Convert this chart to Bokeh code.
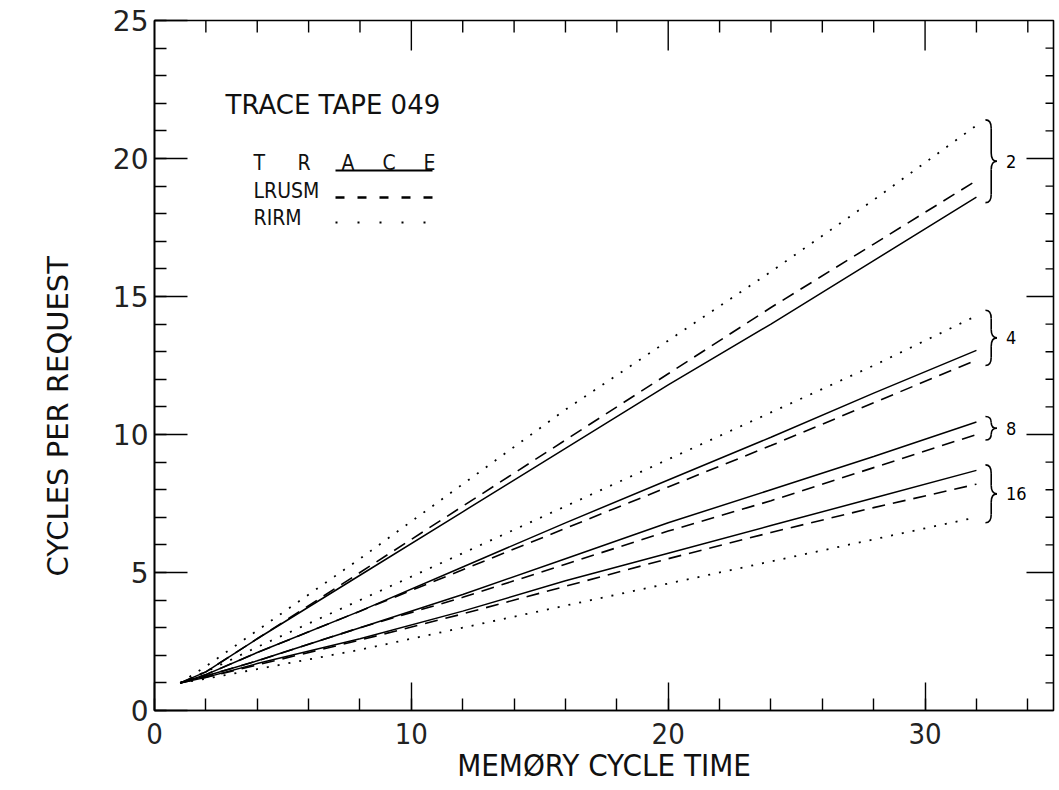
import math
from bokeh.plotting import figure
from bokeh.models import LinearAxis, SingleIntervalTicker, Label, Range1d, Title
from bokeh.embed import file_html
from bokeh.resources import INLINE

# ---------------- data ----------------
x_vals = [1, 2, 4, 8, 12, 16, 20, 24, 28, 32]

g2_trace = [1, 1.4, 2.6, 4.9, 7.2, 9.5, 11.8, 14.0, 16.3, 18.6]
g2_lrusm = [1, 1.4, 2.6, 5.0, 7.4, 9.8, 12.2, 14.6, 16.9, 19.2]
g2_rirm = [1, 1.6, 2.9, 5.5, 8.2, 10.9, 13.4, 15.9, 18.5, 21.2]

g4_trace = [1, 1.3, 2.1, 3.6, 5.2, 6.8, 8.35, 9.9, 11.5, 13.05]
g4_lrusm = [1, 1.3, 2.1, 3.6, 5.1, 6.6, 8.1, 9.6, 11.15, 12.7]
g4_rirm = [1, 1.4, 2.3, 4.0, 5.7, 7.4, 9.1, 10.8, 12.5, 14.3]

g8_trace = [1, 1.25, 1.8, 3.0, 4.2, 5.5, 6.8, 8.0, 9.2, 10.45]
g8_lrusm = [1, 1.25, 1.8, 3.0, 4.1, 5.3, 6.5, 7.6, 8.8, 10.0]

g16_trace = [1, 1.2, 1.7, 2.6, 3.6, 4.7, 5.7, 6.7, 7.7, 8.7]
g16_lrusm = [1, 1.2, 1.65, 2.55, 3.5, 4.5, 5.5, 6.45, 7.35, 8.2]
g16_rirm = [1, 1.15, 1.5, 2.2, 3.0, 3.8, 4.6, 5.4, 6.2, 7.0]

groups = [
    ("2", [g2_trace, g2_lrusm, g2_rirm]),
    ("4", [g4_trace, g4_lrusm, g4_rirm]),
    ("8", [g8_trace, g8_lrusm]),
    ("16", [g16_trace, g16_lrusm, g16_rirm]),
]

x_title = "MEMØRY CYCLE TIME"
y_title = "CYCLES PER REQUEST"
chart_title = "TRACE TAPE 049"
legend_head = ["T", "R", "A", "C", "E"]
legend_names = ["LRUSM", "RIRM"]

# ---------------- layout helpers ----------------
X_MIN, X_MAX = 0, 35
Y_MIN, Y_MAX = 0, 25
FL, FR, FT, FB = 154, 1053, 20, 710  # frame pixel edges
W, H = 1059, 790
SX = (FR - FL) / (X_MAX - X_MIN)
SY = (FB - FT) / (Y_MAX - Y_MIN)


def dx(px):
    return X_MIN + (px - FL) / SX


def dy(py):
    return Y_MIN + (FB - py) / SY


TICK_FONT = "'DejaVu Sans', sans-serif"
NARROW = "'Liberation Sans Narrow', 'DejaVu Sans Condensed', 'Liberation Sans', sans-serif"

p = figure(width=W, height=H, x_range=Range1d(X_MIN, X_MAX), y_range=Range1d(Y_MIN, Y_MAX),
           output_backend="svg", toolbar_location=None,
           x_axis_location=None, y_axis_location=None,
           min_border_left=FL, min_border_right=W - FR,
           min_border_top=FT, min_border_bottom=H - FB)
p.grid.visible = False
p.outline_line_color = "black"
p.outline_line_width = 1.6
p.background_fill_color = "white"
p.border_fill_color = "white"


def make_axis(ticker, major_in, minor_in):
    ax = LinearAxis(ticker=ticker)
    ax.axis_line_color = "black"
    ax.axis_line_width = 1.6
    ax.major_tick_in = major_in
    ax.major_tick_out = 0
    ax.minor_tick_in = minor_in
    ax.minor_tick_out = 0
    ax.major_tick_line_color = "black"
    ax.major_tick_line_width = 1.4
    ax.minor_tick_line_color = "black"
    ax.minor_tick_line_width = 1.4
    return ax


yl = make_axis(SingleIntervalTicker(interval=5, num_minor_ticks=5), 33, 12)
yl.major_label_text_font = TICK_FONT
yl.major_label_text_font_size = "28px"
yl.major_label_text_color = "#222222"
yl.major_label_standoff = 6
p.add_layout(yl, "left")

# y-axis title as a side title, placed lower than the frame centre like the reference
ytitle = Title(text=y_title, align="left", offset=134, standoff=66, vertical_align="top",
               text_font=TICK_FONT, text_font_size="29px", text_font_style="normal",
               text_color="#111111")
p.add_layout(ytitle, "left")

xb = make_axis(SingleIntervalTicker(interval=10, num_minor_ticks=5), 28, 12)
xb.major_label_text_font = NARROW
xb.major_label_text_font_size = "29px"
xb.major_label_text_color = "#222222"
xb.major_label_standoff = 12
xb.axis_label = x_title
xb.axis_label_text_font = NARROW
xb.axis_label_text_font_style = "normal"
xb.axis_label_text_font_size = "31px"
xb.axis_label_text_color = "#111111"
xb.axis_label_standoff = 0
p.add_layout(xb, "below")

# right and top frame ticks (pointing inward), drawn as screen-length rays
right_minor = [v for v in range(1, Y_MAX) if v % 5]
right_major = [v for v in range(5, Y_MAX, 5)]
top_minor = [v for v in range(2, X_MAX, 2) if v % 10]
top_major = [v for v in range(10, X_MAX, 10)]
p.ray(x=[X_MAX] * len(right_minor), y=right_minor, length=8, length_units="screen",
      angle=math.pi, line_color="black", line_width=1.4)
p.ray(x=[X_MAX] * len(right_major), y=right_major, length=27, length_units="screen",
      angle=math.pi, line_color="black", line_width=1.4)
p.ray(x=top_minor, y=[Y_MAX] * len(top_minor), length=12, length_units="screen",
      angle=-math.pi / 2, line_color="black", line_width=1.4)
p.ray(x=top_major, y=[Y_MAX] * len(top_major), length=30, length_units="screen",
      angle=-math.pi / 2, line_color="black", line_width=1.4)

# ---------------- curves ----------------
styles = [
    dict(line_dash="solid", line_width=1.5),
    dict(line_dash="13 8", line_width=1.6),
    dict(line_dash="2 9", line_width=1.8),
]
for name, series in groups:
    for i, ys in enumerate(series):
        p.line(x_vals, ys, line_color="black", line_cap="butt", **styles[i])

# ---------------- braces and group labels ----------------
bx0, bw, pad = 32.35, 0.45, 0.2
for name, series in groups:
    ends = [s[-1] for s in series]
    top = max(ends) + pad
    bot = min(ends) - pad
    mid = (top + bot) / 2
    d = min(0.3, (top - bot) / 4)
    xm = bx0 + bw / 2
    p.quadratic(x0=[bx0, xm, bx0 + bw, xm], y0=[top, mid + d, mid, bot + d],
                x1=[xm, bx0 + bw, xm, bx0], y1=[top - d, mid, mid - d, bot],
                cx=[xm, xm, xm, xm], cy=[top, mid, mid, bot],
                line_color="black", line_width=1.6)
    p.segment(x0=[xm, xm], y0=[top - d, mid - d], x1=[xm, xm], y1=[mid + d, bot + d],
              line_color="black", line_width=1.6)
    p.add_layout(Label(x=bx0 + bw + 0.35, y=mid, text=name, text_font=NARROW,
                       text_font_size="18px", text_baseline="middle", text_align="left",
                       text_color="black"))

# ---------------- texts ----------------
p.add_layout(Label(x=dx(225), y=dy(104), text=chart_title, text_font="'DejaVu Sans', sans-serif",
                   text_font_size="26px", text_baseline="middle", text_align="left",
                   text_color="#111111"))

head_px = [253, 297, 341, 382, 423]
for letter, px in zip(legend_head, head_px):
    p.add_layout(Label(x=dx(px), y=dy(162), text=letter, text_font=NARROW,
                       text_font_size="21px", text_baseline="middle", text_align="left",
                       text_color="#111111"))
p.line([dx(335), dx(432)], [dy(170), dy(170)], line_color="black", line_width=2)

for name, py in zip(legend_names, [190, 217]):
    p.add_layout(Label(x=dx(253), y=dy(py), text=name, text_font=NARROW,
                       text_font_size="21px", text_baseline="middle", text_align="left",
                       text_color="#111111"))
p.line([dx(335), dx(432)], [dy(197), dy(197)], line_color="black", line_width=2.5, line_dash="9 13")
p.line([dx(335), dx(432)], [dy(222), dy(222)], line_color="black", line_width=2, line_dash="2 20")

open("out.html", "w").write(file_html(p, INLINE))
